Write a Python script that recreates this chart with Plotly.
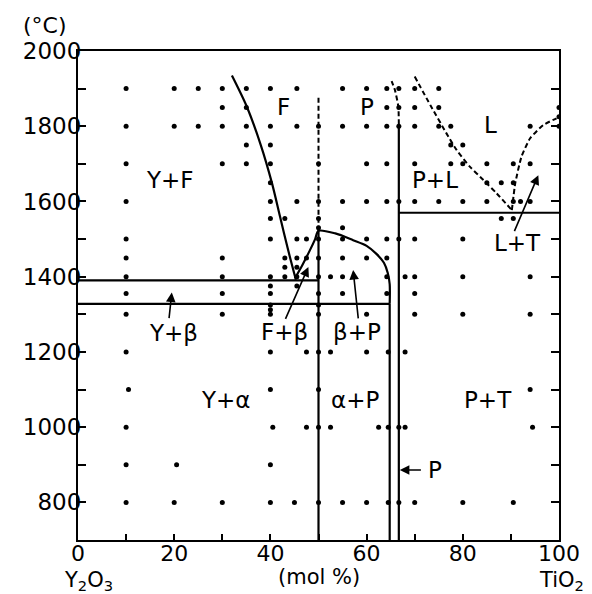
import plotly.graph_objects as go

# ---------------- data ----------------
# experimental points, grouped by temperature (deg C) -> mol % TiO2
r1900 = [10, 20, 25, 30, 35, 40, 45.5, 55, 60, 64.2, 66.7, 70, 75]
r1850 = [30, 35, 64.2, 66.7, 70, 75, 100]
r1825 = [100]
r1800 = [10, 20, 25, 30, 35, 40, 45.5, 50, 55, 60, 64.2, 66.7, 70, 75, 77.5, 94, 100]
r1750 = [35, 40, 77.5, 80]
r1700 = [10, 30, 35, 40, 50, 60, 64.2, 70, 77.5, 80, 85, 90.5, 94]
r1650 = [40, 85, 88, 90.5]
r1600 = [10, 40, 45.5, 50, 55, 60, 64.2, 66.7, 70, 75, 80, 85, 90.5, 92, 94]
r1555 = [40, 43, 50, 88, 90.5]
r1530 = [50, 55]
r1500 = [10, 40, 45.5, 47.5, 50, 55, 60, 64.2, 66.7, 70, 80]
r1450 = [10, 30, 43, 45.5, 47.5, 50, 55, 60, 64.2]
r1425 = [43, 45.5]
r1400 = [10, 30, 40, 43, 45.5, 50, 52.5, 55, 64.2, 68, 70, 80, 94]
r1375 = [40, 45.5]
r1355 = [10, 30, 40, 50, 55, 64.2, 70]
r1325 = [40, 50]
r1312 = [40]
r1300 = [10, 30, 40, 50, 60, 70, 80, 94]
r1200 = [10, 40, 47.5, 50, 52.5, 60, 64.5, 68]
r1100 = [10.5, 40, 50, 94]
r1000 = [10, 40.5, 47.5, 50, 52.5, 62.5, 64.5, 66.7, 68, 94.5]
r900 = [10, 20.5, 40]
r800 = [10, 20, 30, 40, 45, 50, 55, 60, 64.5, 66.7, 70, 80, 90.5]

point_rows = {1900: r1900, 1850: r1850, 1825: r1825, 1800: r1800, 1750: r1750,
              1700: r1700, 1650: r1650, 1600: r1600, 1555: r1555, 1530: r1530,
              1500: r1500, 1450: r1450, 1425: r1425, 1400: r1400, 1375: r1375,
              1355: r1355, 1325: r1325, 1312: r1312, 1300: r1300, 1200: r1200,
              1100: r1100, 1000: r1000, 900: r900, 800: r800}

# phase boundaries (solid)
fss_x = [32, 35, 38, 40.3, 42, 43.7, 45.3]                 # F solvus
fss_t = [1935, 1855, 1750, 1650, 1560, 1470, 1392]
dome_x = [45.1, 46.6, 48.2, 49.3, 50, 53.5, 57.2, 60, 62.1, 63.6, 64.4, 64.8, 64.8]
dome_t = [1396, 1430, 1470, 1500, 1522, 1515, 1497, 1482, 1460, 1437, 1410, 1380, 1328]
h1390_x = [0, 50]; h1390_t = [1390, 1390]
h1328_x = [0, 64.8]; h1328_t = [1328, 1328]
h1570_x = [66.7, 100]; h1570_t = [1570, 1570]
v50_x = [50, 50]; v50_t = [700, 1522]
v647_x = [64.8, 64.8]; v647_t = [700, 1328]
v667_x = [66.7, 66.7]; v667_t = [700, 1805]

# dashed boundaries
d50_x = [50, 50]; d50_t = [1522, 1880]
d667_x = [66.7, 66.6, 65.9, 65.2]; d667_t = [1805, 1852, 1896, 1920]
liq1_x = [70, 73.3, 76.6, 78.7, 81.5, 84.3, 87, 90.2]
liq1_t = [1932, 1855, 1781, 1737, 1692, 1657, 1622, 1577]
liq2_x = [90.2, 90.9, 92.2, 94, 96.7, 99.5]
liq2_t = [1577, 1648, 1719, 1768, 1803, 1821]

# region labels
label_text = ["F", "P", "L", "P+L", "L+T", "Y+F", "Y+β", "F+β", "β+P", "Y+α", "α+P", "P+T", "P"]
label_x = [42.7, 60, 85.7, 74.2, 91.3, 19.1, 19.8, 43, 57.9, 30.6, 57.6, 85.3, 74.2]
label_t = [1852, 1852, 1803, 1657, 1490, 1657, 1249, 1254, 1254, 1072, 1072, 1072, 886]

# leader arrows (tail -> head)
arrow_tail_x = [18.9, 43, 58.3, 71.6, 90.6]
arrow_tail_t = [1286, 1284, 1285, 886, 1517]
arrow_head_x = [19.5, 47.9, 57.2, 66.9, 95.7]
arrow_head_t = [1358, 1426, 1418, 886, 1670]

x_tickvals = list(range(0, 101, 10))
x_ticktext = ["0", "", "20", "", "40", "", "60", "", "80", "", "100"]
y_tickvals = list(range(700, 2001, 100))
y_ticktext = ["" if (v % 200 or v < 800) else str(v) for v in y_tickvals]

# ---------------- figure ----------------
FONT = "DejaVu Sans"
fig = go.Figure()

px_, pt_ = [], []
for t, xs in point_rows.items():
    for x in xs:
        px_.append(x); pt_.append(t)
fig.add_trace(go.Scatter(x=px_, y=pt_, mode="markers",
                         marker=dict(color="black", size=5), hoverinfo="skip"))

solid = [(fss_x, fss_t, "spline"), (dome_x, dome_t, "spline"),
         (h1390_x, h1390_t, "linear"), (h1328_x, h1328_t, "linear"),
         (h1570_x, h1570_t, "linear"), (v50_x, v50_t, "linear"),
         (v647_x, v647_t, "linear"), (v667_x, v667_t, "linear")]
for xs, ts, shp in solid:
    fig.add_trace(go.Scatter(x=xs, y=ts, mode="lines",
                             line=dict(color="black", width=2.2, shape=shp, smoothing=0.8),
                             hoverinfo="skip"))

dashed = [(d50_x, d50_t), (d667_x, d667_t), (liq1_x, liq1_t), (liq2_x, liq2_t)]
for xs, ts in dashed:
    fig.add_trace(go.Scatter(x=xs, y=ts, mode="lines",
                             line=dict(color="black", width=2, dash="5px,3px",
                                       shape="spline", smoothing=0.5),
                             hoverinfo="skip"))

for txt, x, t in zip(label_text, label_x, label_t):
    fig.add_annotation(x=x, y=t, text=txt, showarrow=False,
                       font=dict(family=FONT, size=23, color="black"))

for tx, tt, hx, ht in zip(arrow_tail_x, arrow_tail_t, arrow_head_x, arrow_head_t):
    fig.add_annotation(x=hx, y=ht, ax=tx, ay=tt, xref="x", yref="y",
                       axref="x", ayref="y", text="", showarrow=True,
                       arrowhead=2, arrowsize=1.2, arrowwidth=1.6, arrowcolor="black")

# outer texts (paper coords relative to plot area)
outer = [("(°C)", -0.068, 1.053, 22), ("Y<sub>2</sub>O<sub>3</sub>", 0.021, -0.083, 21),
         ("(mol %)", 0.501, -0.076, 21), ("TiO<sub>2</sub>", 1.006, -0.083, 21)]
for txt, x, y, sz in outer:
    fig.add_annotation(x=x, y=y, xref="paper", yref="paper", text=txt, showarrow=False,
                       xanchor="center", yanchor="middle", borderpad=0,
                       font=dict(family=FONT, size=sz, color="black"))

fig.update_xaxes(range=[0, 100], tickvals=x_tickvals, ticktext=x_ticktext,
                 ticks="inside", ticklen=6, tickwidth=1.5, tickcolor="black",
                 showline=True, linewidth=2, linecolor="black", mirror=True,
                 showgrid=False, zeroline=False, automargin=False,
                 ticklabelstandoff=-7,
                 tickfont=dict(family=FONT, size=22, color="black"))
fig.update_yaxes(range=[700, 2000], tickvals=y_tickvals, ticktext=y_ticktext,
                 ticks="inside", ticklen=8, tickwidth=1.5, tickcolor="black",
                 showline=True, linewidth=2, linecolor="black", mirror="ticks",
                 showgrid=False, zeroline=False, automargin=False,
                 ticklabelstandoff=-10,
                 tickfont=dict(family=FONT, size=23, color="black"))

# page body has a default 8px offset, so margins are reduced accordingly
fig.update_layout(width=592, height=594, showlegend=False,
                  plot_bgcolor="white", paper_bgcolor="white",
                  margin=dict(l=70, r=41, t=43, b=62))

fig.write_html("out.html")
